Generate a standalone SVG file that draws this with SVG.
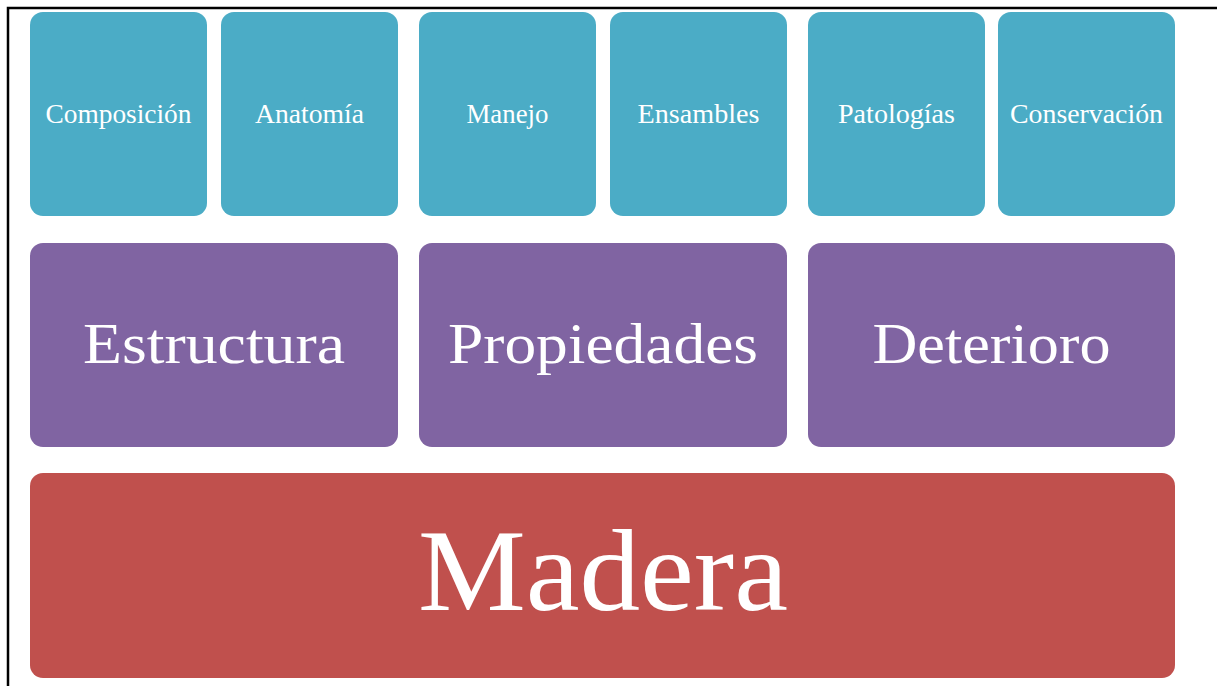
<svg xmlns="http://www.w3.org/2000/svg" width="1217" height="686" viewBox="0 0 1217 686">
<style>
.t{fill:#4bacc6}
.p{fill:#8064a2}
.r{fill:#c0504d}
text{font-family:"Liberation Serif","DejaVu Serif",serif;fill:#ffffff;text-anchor:middle}
.s{font-size:26.5px}
.m{font-size:58px}
.l{font-size:116px}
</style>
<rect width="1217" height="686" fill="#ffffff"/>
<path d="M8 686V8H1217" fill="none" stroke="#000" stroke-width="2.5"/>
<g id="composicion"><rect class="t" x="30" y="12" width="177" height="204" rx="13"/><text class="s" x="118.5" y="123" textLength="146" lengthAdjust="spacingAndGlyphs">Composición</text></g>
<g id="anatomia"><rect class="t" x="221" y="12" width="177" height="204" rx="13"/><text class="s" x="309.5" y="123" textLength="109" lengthAdjust="spacingAndGlyphs">Anatomía</text></g>
<g id="manejo"><rect class="t" x="419" y="12" width="177" height="204" rx="13"/><text class="s" x="507.5" y="123" textLength="82" lengthAdjust="spacingAndGlyphs">Manejo</text></g>
<g id="ensambles"><rect class="t" x="610" y="12" width="177" height="204" rx="13"/><text class="s" x="698.5" y="123" textLength="122" lengthAdjust="spacingAndGlyphs">Ensambles</text></g>
<g id="patologias"><rect class="t" x="808" y="12" width="177" height="204" rx="13"/><text class="s" x="896.5" y="123" textLength="117" lengthAdjust="spacingAndGlyphs">Patologías</text></g>
<g id="conservacion"><rect class="t" x="998" y="12" width="177" height="204" rx="13"/><text class="s" x="1086.5" y="123" textLength="153" lengthAdjust="spacingAndGlyphs">Conservación</text></g>
<g id="estructura"><rect class="p" x="30" y="243" width="368" height="204" rx="13"/><text class="m" x="214" y="363" textLength="262" lengthAdjust="spacingAndGlyphs">Estructura</text></g>
<g id="propiedades"><rect class="p" x="419" y="243" width="368" height="204" rx="13"/><text class="m" x="603" y="363" textLength="310" lengthAdjust="spacingAndGlyphs">Propiedades</text></g>
<g id="deterioro"><rect class="p" x="808" y="243" width="367" height="204" rx="13"/><text class="m" x="991.5" y="363" textLength="238" lengthAdjust="spacingAndGlyphs">Deterioro</text></g>
<g id="madera"><rect class="r" x="30" y="473" width="1145" height="205" rx="13"/><text class="l" x="603" y="610" textLength="370" lengthAdjust="spacingAndGlyphs">Madera</text></g>
<g id="connectors"></g>
</svg>
